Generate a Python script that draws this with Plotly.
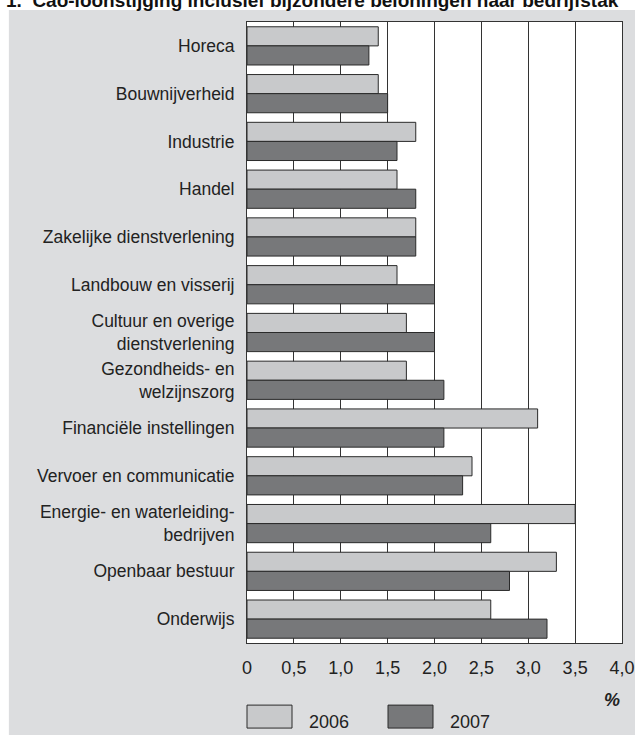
import plotly.graph_objects as go

# categories (top to bottom) and values in %
sectors = [
    "Horeca",
    "Bouwnijverheid",
    "Industrie",
    "Handel",
    "Zakelijke dienstverlening",
    "Landbouw en visserij",
    "Cultuur en overige<br>dienstverlening",
    "Gezondheids- en<br>welzijnszorg",
    "Financiële instellingen",
    "Vervoer en communicatie",
    "Energie- en waterleiding-<br>bedrijven",
    "Openbaar bestuur",
    "Onderwijs",
]
values_2006 = [1.4, 1.4, 1.8, 1.6, 1.8, 1.6, 1.7, 1.7, 3.1, 2.4, 3.5, 3.3, 2.6]
values_2007 = [1.3, 1.5, 1.6, 1.8, 1.8, 2.0, 2.0, 2.1, 2.1, 2.3, 2.6, 2.8, 3.2]
tick_vals = [0, 0.5, 1.0, 1.5, 2.0, 2.5, 3.0, 3.5, 4.0]
tick_text = ["0", "0,5", "1,0", "1,5", "2,0", "2,5", "3,0", "3,5", "4,0"]

LIGHT = "#c8c9cb"
DARK = "#77787a"
EDGE = "#2a2a2a"
BG = "#dcdddf"
FONT = "Arial"

fig = go.Figure()
fig.add_trace(go.Bar(y=sectors, x=values_2006, orientation="h", name="2006",
                     marker=dict(color=LIGHT, line=dict(color=EDGE, width=1))))
fig.add_trace(go.Bar(y=sectors, x=values_2007, orientation="h", name="2007",
                     marker=dict(color=DARK, line=dict(color=EDGE, width=1))))

fig.update_layout(
    width=635, height=735,
    margin=dict(l=247, r=13, t=22, b=92),
    paper_bgcolor="white",
    plot_bgcolor="white",
    barmode="group",
    bargap=0.2,
    bargroupgap=0,
    showlegend=False,
    font=dict(family=FONT, size=17.5, color="#222"),
)

fig.update_xaxes(
    range=[0, 4.0], tickvals=tick_vals, ticktext=tick_text,
    showgrid=True, gridcolor="#333", gridwidth=1,
    showline=True, linecolor="#333", linewidth=1, mirror=True,
    ticks="", zeroline=False, ticklabelstandoff=8,
    tickfont=dict(size=18), automargin=False,
)
fig.update_yaxes(
    autorange="reversed", showgrid=False,
    showline=True, linecolor="#333", linewidth=1, mirror=True,
    ticks="", ticklabelstandoff=8,
    tickfont=dict(size=17.5), automargin=False,
)

# gray panel behind everything, white plot area on top of it
fig.add_shape(type="rect", xref="paper", yref="paper",
              x0=-0.635, x1=1.1, y0=-0.2, y1=1.0193,
              fillcolor=BG, line=dict(width=0), layer="below")
fig.add_shape(type="rect", xref="paper", yref="paper",
              x0=0, x1=1, y0=0, y1=1,
              fillcolor="white", line=dict(width=0), layer="below")

# legend swatches
fig.add_shape(type="rect", xref="paper", yref="paper",
              x0=0.0, x1=0.12, y0=-0.137, y1=-0.100,
              fillcolor=LIGHT, line=dict(color=EDGE, width=1))
fig.add_shape(type="rect", xref="paper", yref="paper",
              x0=0.376, x1=0.496, y0=-0.137, y1=-0.100,
              fillcolor=DARK, line=dict(color=EDGE, width=1))
fig.add_annotation(text="2006", xref="paper", yref="paper", x=0.16, y=-0.127,
                   xanchor="left", yanchor="middle", showarrow=False,
                   font=dict(size=18))
fig.add_annotation(text="2007", xref="paper", yref="paper", x=0.536, y=-0.127,
                   xanchor="left", yanchor="middle", showarrow=False,
                   font=dict(size=18))

# unit label
fig.add_annotation(text="<b><i>%</i></b>", xref="paper", yref="paper",
                   x=1.0, y=-0.092, xanchor="right", yanchor="middle",
                   showarrow=False, font=dict(size=18))

# title, cut off at the top edge of the page
fig.add_annotation(text="<b>1.  Cao-loonstijging inclusief bijzondere beloningen naar bedrijfstak</b>",
                   xref="paper", yref="paper", x=-0.648, y=1.0354,
                   xanchor="left", yanchor="middle", showarrow=False,
                   font=dict(size=19, color="#111"))

fig.write_html("out.html", config={"displayModeBar": False},
               post_script="document.body.style.margin='0';")
